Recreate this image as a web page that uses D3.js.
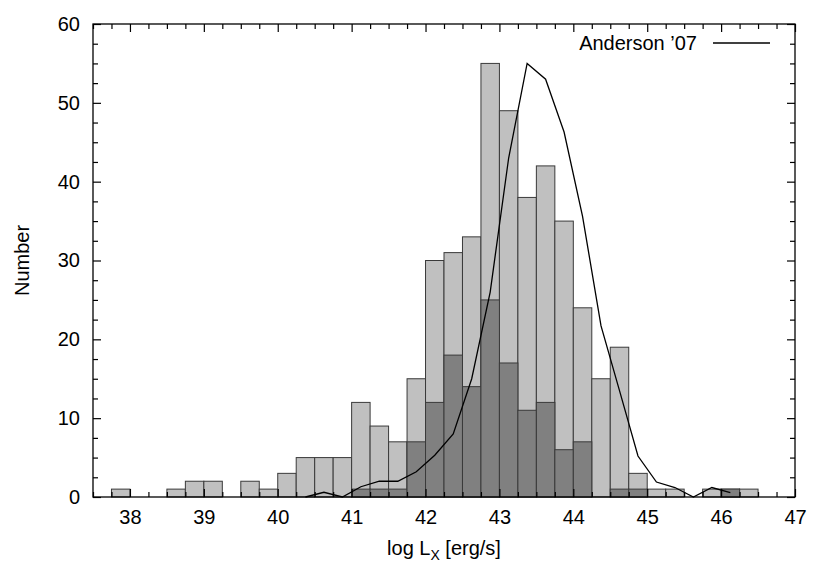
<!DOCTYPE html>
<html>
<head>
<meta charset="utf-8">
<script src="https://cdn.jsdelivr.net/npm/d3@7"></script>
<style>
  body { margin: 0; background: #fff; }
  text { font-family: "Liberation Sans", Arial, sans-serif; }
</style>
</head>
<body>
<div id="chart"></div>
<script>
// histogram bins (left edge, width 0.25)
var binLeft = [37.75, 38.0, 38.25, 38.5, 38.75, 39.0, 39.25, 39.5, 39.75, 40.0,
	40.25, 40.5, 40.75, 41.0, 41.25, 41.5, 41.75, 42.0, 42.25, 42.5,
	42.75, 43.0, 43.25, 43.5, 43.75, 44.0, 44.25, 44.5, 44.75, 45.0,
	45.25, 45.5, 45.75, 46.0, 46.25];
var binWidth = 0.25;

// all sources (light grey)
var totalCounts = [1, 0, 0, 1, 2, 2, 0, 2, 1, 3,
	5, 5, 5, 12, 9, 7, 15, 30, 31, 33,
	55, 49, 38, 42, 35, 24, 15, 19, 3, 1,
	1, 0, 1, 1, 1];
// subsample (dark grey)
var subCounts = [0, 0, 0, 0, 0, 0, 0, 0, 0, 0,
	0, 0, 0, 1, 1, 1, 7, 12, 18, 14,
	25, 17, 11, 12, 6, 7, 0, 1, 1, 0,
	0, 0, 0, 1, 0];

// Anderson '07 curve
var andersonX = [40.375, 40.625, 40.875, 41.125, 41.375, 41.625, 41.875, 42.125, 42.375, 42.625,
	42.875, 43.125, 43.375, 43.625, 43.875, 44.125, 44.375, 44.625, 44.875, 45.125,
	45.375, 45.625, 45.875, 46.125];
var andersonY = [0, 0.6, 0, 1.3, 2, 2, 3.2, 5.3, 8, 15,
	26, 43, 55, 53, 46.3, 35.6, 21.7, 13.5, 5.2, 1.9,
	1.2, 0, 1.2, 0.55];

var xTicks = [38, 39, 40, 41, 42, 43, 44, 45, 46, 47];
var yTicks = [0, 10, 20, 30, 40, 50, 60];

var W = 830, H = 581;
var margin = {top: 24, right: 35, bottom: 84, left: 93},
	width = W - margin.left - margin.right,
	height = H - margin.top - margin.bottom;

var svg = d3.select("#chart")
	.append("svg")
	.attr("width", W)
	.attr("height", H)
	.append("g")
	.attr("transform", "translate(" + margin.left + "," + margin.top + ")");

var x = d3.scaleLinear().domain([37.5, 47]).range([0, width]);
var y = d3.scaleLinear().domain([0, 60]).range([height, 0]);

var FONT = "20px";

var bins = binLeft.map((b, i) => ({x0: b, total: totalCounts[i], sub: subCounts[i]}));

// light bars
svg.append("g")
	.selectAll("rect")
	.data(bins.filter(d => d.total > 0))
	.enter()
	.append("rect")
	.attr("x", d => x(d.x0))
	.attr("y", d => y(d.total))
	.attr("width", d => x(d.x0 + binWidth) - x(d.x0))
	.attr("height", d => y(0) - y(d.total))
	.attr("fill", "#c0c0c0")
	.attr("stroke", "#3a3a3a")
	.attr("stroke-width", 1);

// dark bars
svg.append("g")
	.selectAll("rect")
	.data(bins.filter(d => d.sub > 0))
	.enter()
	.append("rect")
	.attr("x", d => x(d.x0))
	.attr("y", d => y(d.sub))
	.attr("width", d => x(d.x0 + binWidth) - x(d.x0))
	.attr("height", d => y(0) - y(d.sub))
	.attr("fill", "#808080")
	.attr("stroke", "#3a3a3a")
	.attr("stroke-width", 1);

// Anderson line
var line = d3.line()
	.x((d, i) => x(andersonX[i]))
	.y(d => y(d));
svg.append("path")
	.datum(andersonY)
	.attr("fill", "none")
	.attr("stroke", "#000")
	.attr("stroke-width", 1.3)
	.attr("d", line);

// minor ticks
var xMinor = d3.range(37.5, 47.01, 0.25).filter(v => Math.abs(v - Math.round(v)) > 0.01);
var yMinor = d3.range(0, 60.01, 2.5).filter(v => v % 10 != 0);

function styleAxis(g) {
	g.select(".domain").remove();
	g.selectAll("line").attr("stroke", "#000").attr("stroke-width", 1.2);
	g.selectAll("text").attr("font-size", FONT).attr("fill", "#000")
		.attr("font-family", "'Liberation Sans', Arial, sans-serif");
}

svg.append("g")
	.attr("transform", "translate(0," + height + ")")
	.call(d3.axisBottom(x).tickValues(xTicks).tickSize(-8).tickPadding(13).tickFormat(d3.format("d")))
	.call(styleAxis);
svg.append("g")
	.attr("transform", "translate(0," + height + ")")
	.call(d3.axisBottom(x).tickValues(xMinor).tickSize(-5).tickFormat(""))
	.call(styleAxis);
svg.append("g")
	.call(d3.axisTop(x).tickValues(xTicks).tickSize(-8).tickFormat(""))
	.call(styleAxis);
svg.append("g")
	.call(d3.axisTop(x).tickValues(xMinor).tickSize(-5).tickFormat(""))
	.call(styleAxis);

svg.append("g")
	.call(d3.axisLeft(y).tickValues(yTicks).tickSize(-8).tickPadding(13))
	.call(styleAxis);
svg.append("g")
	.call(d3.axisLeft(y).tickValues(yMinor).tickSize(-5).tickFormat(""))
	.call(styleAxis);
svg.append("g")
	.attr("transform", "translate(" + width + ",0)")
	.call(d3.axisRight(y).tickValues(yTicks).tickSize(-8).tickFormat(""))
	.call(styleAxis);
svg.append("g")
	.attr("transform", "translate(" + width + ",0)")
	.call(d3.axisRight(y).tickValues(yMinor).tickSize(-5).tickFormat(""))
	.call(styleAxis);

// frame
svg.append("rect")
	.attr("width", width)
	.attr("height", height)
	.attr("fill", "none")
	.attr("stroke", "#000")
	.attr("stroke-width", 1.3);

// axis titles
var xl = svg.append("text")
	.attr("x", width / 2)
	.attr("y", height + 58)
	.attr("text-anchor", "middle")
	.attr("font-size", FONT);
xl.append("tspan").text("log L");
xl.append("tspan").attr("font-size", "14px").attr("dy", 5).text("X");
xl.append("tspan").attr("dy", -5).text(" [erg/s]");

svg.append("text")
	.attr("transform", "translate(" + (22 - margin.left) + "," + (height / 2) + ")rotate(-90)")
	.attr("text-anchor", "middle")
	.attr("dy", "0.35em")
	.attr("font-size", FONT)
	.text("Number");

// legend
svg.append("text")
	.attr("x", 697 - margin.left)
	.attr("y", 50 - margin.top)
	.attr("text-anchor", "end")
	.attr("font-size", FONT)
	.text("Anderson \u201907");
svg.append("line")
	.attr("x1", 713 - margin.left)
	.attr("x2", 770 - margin.left)
	.attr("y1", 43 - margin.top)
	.attr("y2", 43 - margin.top)
	.attr("stroke", "#000")
	.attr("stroke-width", 1.3);
</script>
</body>
</html>
